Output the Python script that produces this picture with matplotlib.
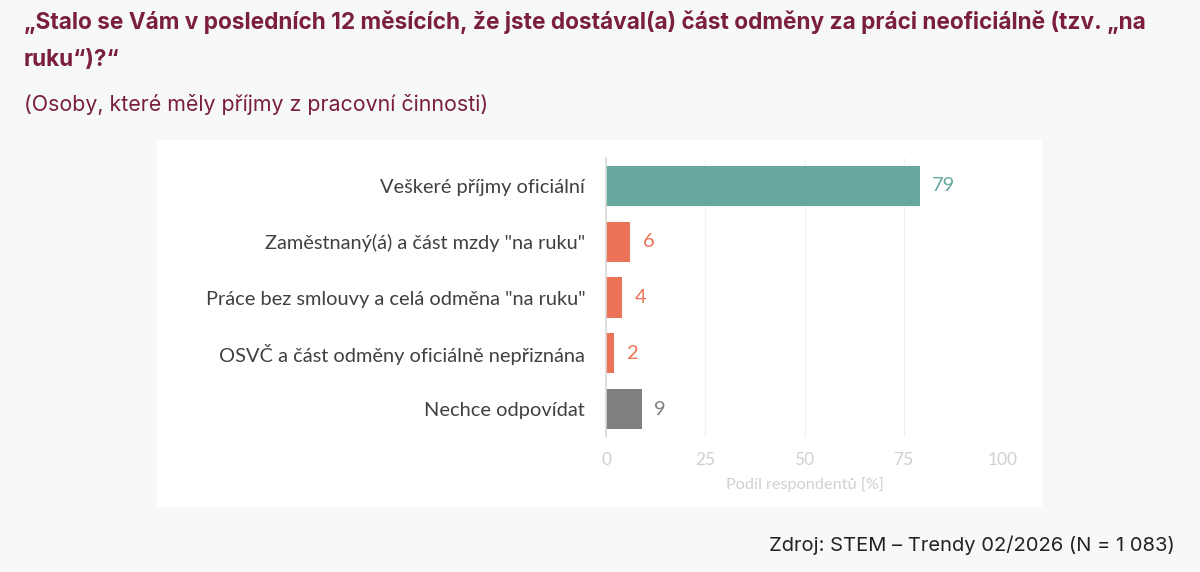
import matplotlib.pyplot as plt
from matplotlib.patches import Rectangle

categories = [
    "Veškeré příjmy oficiální",
    'Zaměstnaný(á) a část mzdy "na ruku"',
    'Práce bez smlouvy a celá odměna "na ruku"',
    "OSVČ a část odměny oficiálně nepřiznána",
    "Nechce odpovídat",
]
values = [79, 6, 4, 2, 9]
colors = ["#66a8a0", "#ec7357", "#ec7357", "#ec7357", "#808080"]
xticks = [0, 25, 50, 75, 100]

W, H = 1200, 572
fig = plt.figure(figsize=(W / 100, H / 100), dpi=100)
fig.patch.set_facecolor("#f7f8fa")

# white chart panel
fig.patches.append(Rectangle((157 / W, 1 - 507 / H), (1042 - 157) / W, (507 - 140) / H,
                             transform=fig.transFigure, facecolor="white", edgecolor="none", zorder=-1))

ax = fig.add_axes([606 / W, 1 - 437 / H, (1003 - 606) / W, (437 - 158) / H])
ax.set_zorder(2)
ax.set_facecolor("none")
ypos = list(range(len(categories)))
ax.barh(ypos, values, height=0.72, color=colors, zorder=2)
ax.set_xlim(0, 100)
ax.set_ylim(len(categories) - 0.5, -0.5)

for y, v, c in zip(ypos, values, colors):
    ax.text(v + 3.2, y, str(v), va="center", ha="left", color=c, fontsize=14.5, family="Lato")

ax.set_yticks(ypos)
ax.set_yticklabels(categories, fontsize=14.4, color="#404040", family="Lato")
ax.set_xticks(xticks)
ax.set_xticklabels([str(t) for t in xticks], fontsize=12.5, color="#d0d0d0", family="Lato")
ax.tick_params(axis="y", length=0, pad=15)
ax.tick_params(axis="x", length=0, pad=11)
ax.set_xlabel("Podíl respondentů [%]", fontsize=11.7, color="#d0d0d0", family="Lato", labelpad=6)

ax.grid(axis="x", color="#f0f0f0", linewidth=0.8, zorder=0)
for s in ["top", "right", "bottom"]:
    ax.spines[s].set_visible(False)
ax.spines["left"].set_color("#d9d9d9")
ax.spines["left"].set_linewidth(1.2)

title_color = "#7a1f3d"
fig.text(24 / W, 1 - 22 / H,
         "„Stalo se Vám v posledních 12 měsících, že jste dostával(a) část odměny za práci neoficiálně (tzv. „na",
         fontsize=16.3, fontweight="bold", color=title_color, family="Inter", va="center", ha="left")
fig.text(24 / W, 1 - 60 / H, "ruku“)?“",
         fontsize=16.3, fontweight="bold", color=title_color, family="Inter", va="center", ha="left")
fig.text(24 / W, 1 - 104 / H, "(Osoby, které měly příjmy z pracovní činnosti)",
         fontsize=15.4, color=title_color, family="Inter", va="center", ha="left")

fig.text(1175 / W, 1 - 545 / H, "Zdroj: STEM – Trendy 02/2026 (N = 1 083)",
         fontsize=14.5, color="#222222", family="Inter", va="center", ha="right")

fig.savefig("out.png", dpi=100, facecolor=fig.get_facecolor())
